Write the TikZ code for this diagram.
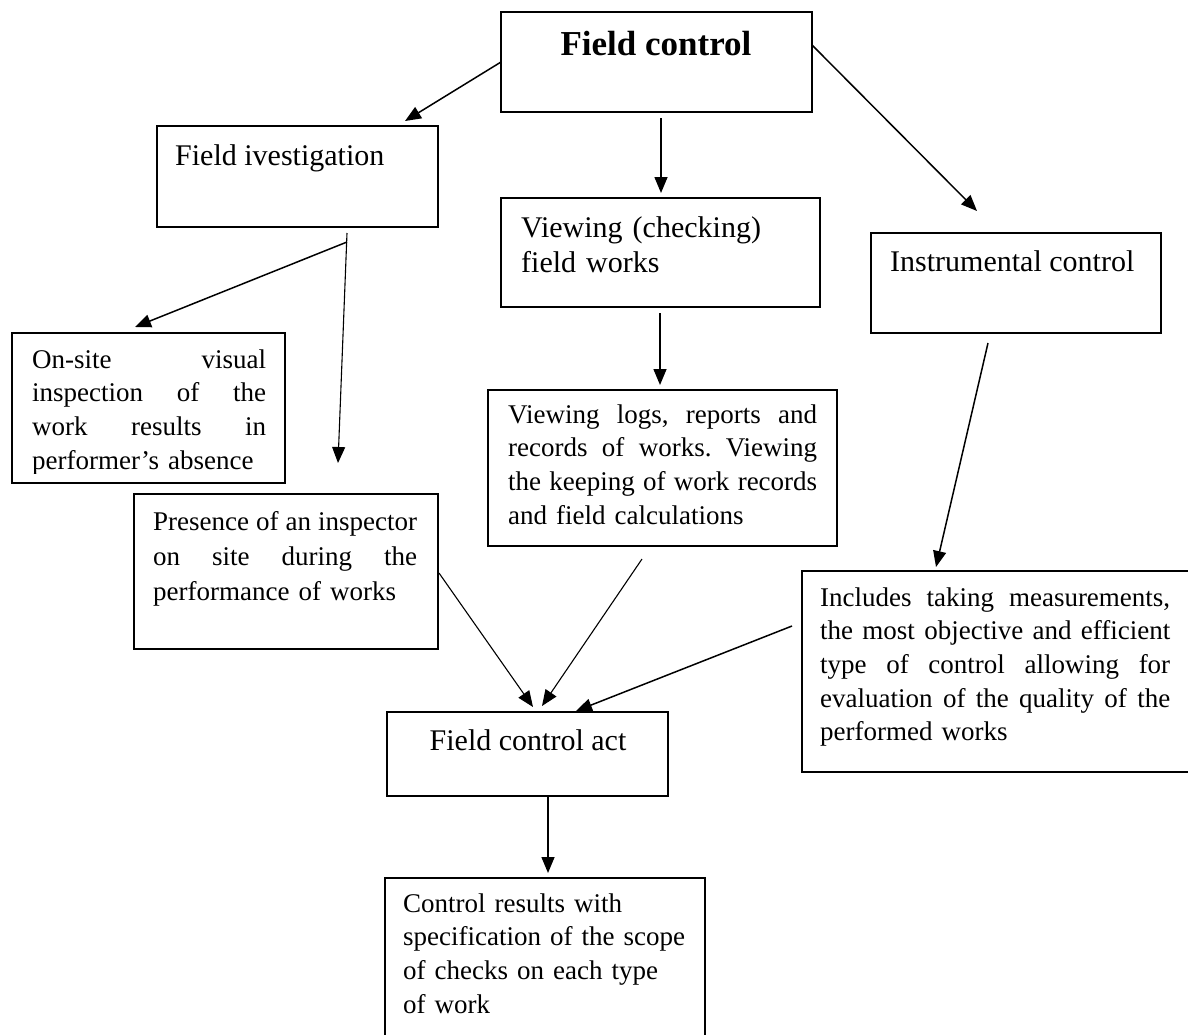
\documentclass[tikz,border=0pt]{standalone}
\usepackage{fontspec}
\setmainfont{Liberation Serif}
\usetikzlibrary{arrows.meta}
\newcommand\jline[1]{\leavevmode\hbox to \hsize{#1}\par}
\newcommand\rline[1]{\leavevmode\hbox{#1}\par}
\begin{document}
\begin{tikzpicture}[x=1pt,y=-1pt,
  box/.style={draw, line width=1.5pt, inner sep=0pt, outer sep=0pt, anchor=north west},
  arr/.style={line width=1.5pt, -{Triangle[length=16pt,width=13pt]}},
  thinarr/.style={line width=1.1pt, -{Triangle[length=16pt,width=13pt]}},
  head/.style={inner sep=0pt, anchor=base west, font=\fontsize{30}{34}\selectfont},
  desc/.style={inner sep=0pt, anchor=base west, align=left, font=\fontsize{27}{33.7}\selectfont}]
\useasboundingbox (0,0) rectangle (1188,1034);
\fill[white] (0,0) rectangle (1188,1034);

% boxes
\node[box, minimum width=311pt, minimum height=100pt] (fc) at (501,12) {};
\node[box, minimum width=281pt, minimum height=101pt] (fi) at (157,126) {};
\node[box, minimum width=319pt, minimum height=109pt] (vc) at (501,198) {};
\node[box, minimum width=290pt, minimum height=100pt] (ic) at (871,233) {};
\node[box, minimum width=273pt, minimum height=150pt] (os) at (12,333) {};
\node[box, minimum width=304pt, minimum height=155pt] (pr) at (134,494) {};
\node[box, minimum width=349pt, minimum height=156pt] (lg) at (488,390) {};
\node[box, minimum width=400pt, minimum height=201pt] (in) at (802,571) {};
\node[box, minimum width=281pt, minimum height=84pt] (fca) at (387,712) {};
\node[box, minimum width=320pt, minimum height=170pt] (cr) at (385,878) {};

% texts
\node[inner sep=0pt, anchor=base, font=\fontsize{35}{40}\selectfont\bfseries] (fct) at (656,55) {Field control};
\node[head] (fit) at (175,165) {Field ivestigation};
\node[head, text width=300pt, align=left, font=\fontsize{30}{35}\selectfont] (vct) at (521,237) {Viewing (checking)\\field works};
\node[head] (ict) at (890,271) {Instrumental control};
\node[head, anchor=base] (fcat) at (528,750) {Field control act};
\begin{scope}
\clip (12,333) rectangle (285,473);
\node[desc, text width=234pt] (ost) at (32,368) {\jline{On-site\hfill visual}\jline{inspection\hfill of\hfill the}\jline{work\hfill results\hfill in}\rline{performer’s absence}};
\end{scope}
\node[desc, text width=264pt, font=\fontsize{27}{35}\selectfont] (prt) at (153,530) {\jline{Presence\hfill of\hfill an\hfill inspector}\jline{on\hfill site\hfill during\hfill the}\rline{performance of works}};
\node[desc, text width=309pt] (lgt) at (508,423) {\jline{Viewing\hfill logs,\hfill reports\hfill and}\jline{records\hfill of\hfill works.\hfill Viewing}\jline{the\hfill keeping\hfill of\hfill work\hfill records}\rline{and field calculations}};
\node[desc, text width=350pt] (int) at (820,606) {\jline{Includes\hfill taking\hfill measurements,}\jline{the\hfill most\hfill objective\hfill and\hfill efficient}\jline{type\hfill of\hfill control\hfill allowing\hfill for}\jline{evaluation\hfill of\hfill the\hfill quality\hfill of\hfill the}\rline{performed works}};
\node[desc, text width=300pt] (crt) at (403,912) {\rline{Control results with}\rline{specification of the scope}\rline{of checks on each type}\rline{of work}};

% connector end points
\coordinate (tFI) at (405,121);
\coordinate (sVC) at (661,118);
\coordinate (tVC) at (661,193);
\coordinate (sIC) at (812,45);
\coordinate (tIC) at (977,211);
\coordinate (sFI) at (347,233);
\coordinate (jFI) at (347,242);
\coordinate (tPR) at (338,463);
\coordinate (tOS) at (135,327);
\coordinate (sLG) at (660,313);
\coordinate (tLG) at (660,385);
\coordinate (sIN) at (988,343);
\coordinate (tIN) at (936,567);
\coordinate (sPR) at (439,573);
\coordinate (tA1) at (533,707);
\coordinate (sLG2) at (642,559);
\coordinate (tA2) at (542,706);
\coordinate (sIN2) at (792,626);
\coordinate (tA3) at (576,711);
\coordinate (sCR) at (548,796);
\coordinate (tCR) at (548,873);

% connectors
\draw[arr] (fc.west) -- (tFI);
\draw[arr] (sVC) -- (tVC);
\draw[arr] (sIC) -- (tIC);
\draw[thinarr] (sFI) -- (tPR);
\draw[arr] (jFI) -- (tOS);
\draw[arr] (sLG) -- (tLG);
\draw[arr] (sIN) -- (tIN);
\draw[thinarr] (sPR) -- (tA1);
\draw[thinarr] (sLG2) -- (tA2);
\draw[arr] (sIN2) -- (tA3);
\draw[arr] (sCR) -- (tCR);
\end{tikzpicture}
\end{document}
